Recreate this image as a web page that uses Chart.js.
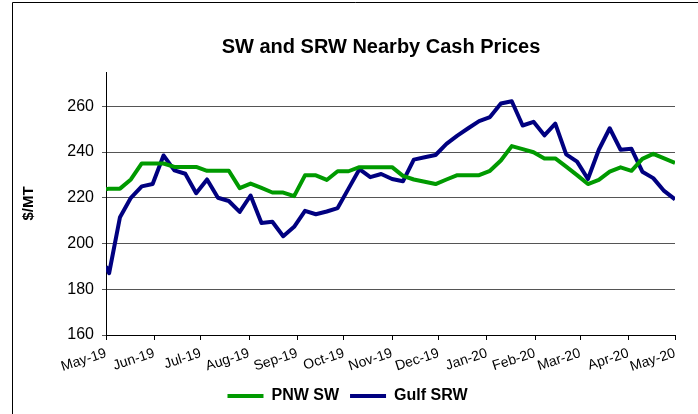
<!DOCTYPE html>
<html>
<head>
<meta charset="utf-8">
<title>SW and SRW Nearby Cash Prices</title>
<script src="https://cdn.jsdelivr.net/npm/chart.js@4.4.1/dist/chart.umd.min.js"></script>
<style>
  html, body { margin: 0; padding: 0; background: #fff; }
  #wrap { width: 698px; height: 414px; }
</style>
</head>
<body>
<div id="wrap"><canvas id="priceChart" width="698" height="414"></canvas></div>
<script>
// weekly cash prices ($/MT), Fridays, plus the May 1 start
const priceDates = [
  '2019-05-01', '2019-05-03', '2019-05-10', '2019-05-17', '2019-05-24', '2019-05-31',
  '2019-06-07', '2019-06-14', '2019-06-21', '2019-06-28',
  '2019-07-05', '2019-07-12', '2019-07-19', '2019-07-26',
  '2019-08-02', '2019-08-09', '2019-08-16', '2019-08-23', '2019-08-30',
  '2019-09-06', '2019-09-13', '2019-09-20', '2019-09-27',
  '2019-10-04', '2019-10-11', '2019-10-18', '2019-10-25',
  '2019-11-01', '2019-11-08', '2019-11-15', '2019-11-22', '2019-11-29',
  '2019-12-06', '2019-12-13', '2019-12-20', '2019-12-27',
  '2020-01-03', '2020-01-10', '2020-01-17', '2020-01-24', '2020-01-31',
  '2020-02-07', '2020-02-14', '2020-02-21', '2020-02-28',
  '2020-03-06', '2020-03-13', '2020-03-20', '2020-03-27',
  '2020-04-03', '2020-04-10', '2020-04-17', '2020-04-24', '2020-05-01'
];

const pnwSW = [
  223.7, 224, 224, 228, 235, 235,
  235, 233.5, 233.5, 233.5,
  231.8, 231.8, 231.8, 224.2,
  226.2, 224.3, 222.3, 222.3, 220.7,
  229.8, 229.8, 227.8, 231.6,
  231.6, 233.4, 233.4, 233.4,
  233.4, 229.6, 228, 227, 226,
  228, 229.9, 229.9, 229.9,
  231.8, 236.3, 242.6, 241.3, 239.9,
  237.2, 237.2, 233.6, 229.9,
  226, 227.8, 231.4, 233.3,
  231.8, 237, 239.2, 237.2, 235.2
];

const gulfSRW = [
  190, 187, 211.5, 220, 225, 226,
  238.5, 232, 230.5, 222,
  228, 220, 218.6, 213.8,
  221, 209, 209.5, 203.2, 207.3,
  214.3, 212.8, 214, 215.5,
  224, 232.5, 229, 230.4,
  228.2, 227.2, 236.7, 237.7, 238.7,
  243.6, 247.2, 250.4, 253.5,
  255.3, 261.2, 262.2, 251.6, 253.2,
  247.3, 252.4, 239, 235.8,
  228.2, 241, 250.4, 241,
  241.4, 231.4, 228.6, 223, 219.3
];

// x axis ticks: first of every month
const monthTicks = [
  '2019-05-01', '2019-06-01', '2019-07-01', '2019-08-01', '2019-09-01', '2019-10-01',
  '2019-11-01', '2019-12-01', '2020-01-01', '2020-02-01', '2020-03-01', '2020-04-01', '2020-05-01'
];
const monthLabels = [
  'May-19', 'Jun-19', 'Jul-19', 'Aug-19', 'Sep-19', 'Oct-19',
  'Nov-19', 'Dec-19', 'Jan-20', 'Feb-20', 'Mar-20', 'Apr-20', 'May-20'
];

const yTicks = [160, 180, 200, 220, 240, 260];

const startMs = Date.parse(monthTicks[0]);
const toDay = s => (Date.parse(s) - startMs) / 86400000;

const points = vals => vals.map((v, i) => ({ x: toDay(priceDates[i]), y: v }));

Chart.defaults.font.family = '"Liberation Sans", Arial, sans-serif';
Chart.defaults.color = '#000';

// title + outer frame, drawn after the chart
const chartTitle = {
  id: 'chartTitle',
  afterDraw(chart) {
    const ctx = chart.ctx;
    ctx.save();
    ctx.strokeStyle = '#000';
    ctx.lineWidth = 1;
    ctx.beginPath();
    ctx.moveTo(12.5, 414);
    ctx.lineTo(12.5, 2.5);
    ctx.lineTo(698, 2.5);
    ctx.stroke();
    ctx.fillStyle = '#000';
    ctx.font = 'bold 20px "Liberation Sans", Arial, sans-serif';
    ctx.textAlign = 'center';
    ctx.fillText('SW and SRW Nearby Cash Prices', 381, 47);
    ctx.restore();
  }
};

new Chart(document.getElementById('priceChart'), {
  type: 'line',
  data: {
    datasets: [
      {
        label: 'PNW SW',
        data: points(pnwSW),
        borderColor: '#009a00',
        backgroundColor: '#009a00',
        borderWidth: 4,
        pointRadius: 0,
        tension: 0,
        borderJoinStyle: 'round'
      },
      {
        label: 'Gulf SRW',
        data: points(gulfSRW),
        borderColor: '#000080',
        backgroundColor: '#000080',
        borderWidth: 4,
        pointRadius: 0,
        tension: 0,
        borderJoinStyle: 'round'
      }
    ]
  },
  options: {
    responsive: false,
    animation: false,
    devicePixelRatio: 1,
    layout: { padding: { left: 20, top: 72, right: 23, bottom: 0 } },
    plugins: {
      title: { display: false },
      tooltip: { enabled: false },
      legend: {
        position: 'bottom',
        labels: {
          usePointStyle: true,
          pointStyle: 'line',
          pointStyleWidth: 36,
          padding: 11,
          color: '#000',
          font: { size: 16, weight: 'bold' }
        }
      }
    },
    scales: {
      x: {
        type: 'linear',
        min: 0,
        max: toDay(monthTicks[monthTicks.length - 1]),
        afterBuildTicks: scale => {
          scale.ticks = monthTicks.map(s => ({ value: toDay(s) }));
        },
        afterFit: scale => { scale.height = 42; },
        ticks: {
          autoSkip: false,
          minRotation: 18,
          maxRotation: 18,
          padding: 5,
          color: '#000',
          font: { size: 14 },
          callback: (value, index) => monthLabels[index]
        },
        grid: { drawOnChartArea: false, color: '#000', tickLength: 5 },
        border: { color: '#000' }
      },
      y: {
        min: 160,
        max: 275,
        afterBuildTicks: scale => {
          scale.ticks = yTicks.map(v => ({ value: v }));
        },
        afterFit: scale => { scale.width = 86; },
        ticks: { color: '#000', font: { size: 16 }, padding: 8 },
        grid: { color: '#555', tickLength: 4 },
        border: { color: '#000' },
        title: {
          display: true,
          text: '$/MT',
          color: '#000',
          font: { size: 15, weight: 'bold' },
          padding: 0
        }
      }
    }
  },
  plugins: [chartTitle]
});
</script>
</body>
</html>
